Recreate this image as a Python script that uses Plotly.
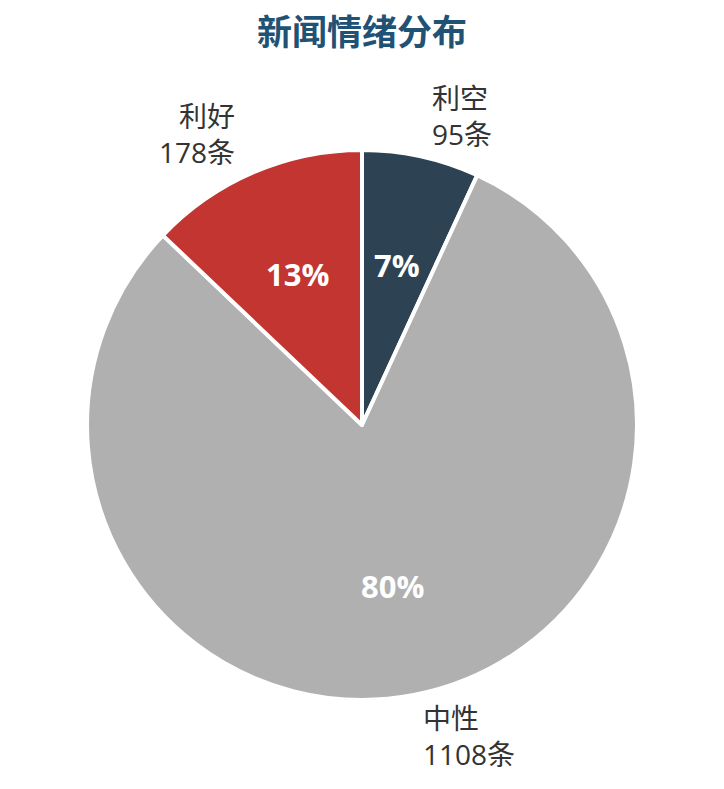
import math
import plotly.graph_objects as go

labels = ["利空", "中性", "利好"]
counts = [95, 1108, 178]
colors = ["#2d4354", "#b0b0b0", "#c23531"]

font_family = "Open Sans, Noto Sans CJK SC, sans-serif"
W, H = 724, 789
pie_domain = dict(x=[0, 0.9779], y=[0.1230, 0.8200])

fig = go.Figure()

fig.add_trace(go.Pie(
    labels=labels, values=counts,
    sort=False, direction="clockwise", rotation=0,
    marker=dict(colors=colors, line=dict(color="white", width=4)),
    textinfo="none",
    domain=pie_domain,
    showlegend=False,
    hoverinfo="label+value+percent",
))

# label / percentage positions follow the slice mid-angles
cx = sum(pie_domain["x"]) / 2
cy = sum(pie_domain["y"]) / 2
R = 273
total = sum(counts)
start = 0.0
for lab, n in zip(labels, counts):
    frac = n / total
    mid = (start + frac / 2) * 2 * math.pi
    start += frac
    sx, sy = math.sin(mid), math.cos(mid)
    # percentage inside
    fig.add_annotation(
        x=cx + 0.6 * R * sx / W, y=cy + 0.6 * R * sy / H, xref="paper", yref="paper",
        text="<b>%d%%</b>" % round(frac * 100), showarrow=False,
        xanchor="center", yanchor="middle",
        font=dict(family=font_family, size=31, color="white"),
    )
    # category label outside
    side = "left" if sx >= 0 else "right"
    fig.add_annotation(
        x=cx + 1.16 * R * sx / W, y=cy + 1.16 * R * sy / H, xref="paper", yref="paper",
        text="%s<br>%d条" % (lab, n), showarrow=False,
        xanchor=side, yanchor="middle", align=side,
        font=dict(family=font_family, size=28, color="#333333"),
    )

fig.update_layout(
    width=W, height=H,
    margin=dict(l=0, r=0, t=0, b=0),
    paper_bgcolor="white",
    title=dict(text="<b>新闻情绪分布</b>", x=0.489, xanchor="center", y=0.968, yanchor="middle",
               font=dict(family=font_family, size=35, color="#1f5275")),
    font=dict(family=font_family),
)

fig.write_html("out.html")
